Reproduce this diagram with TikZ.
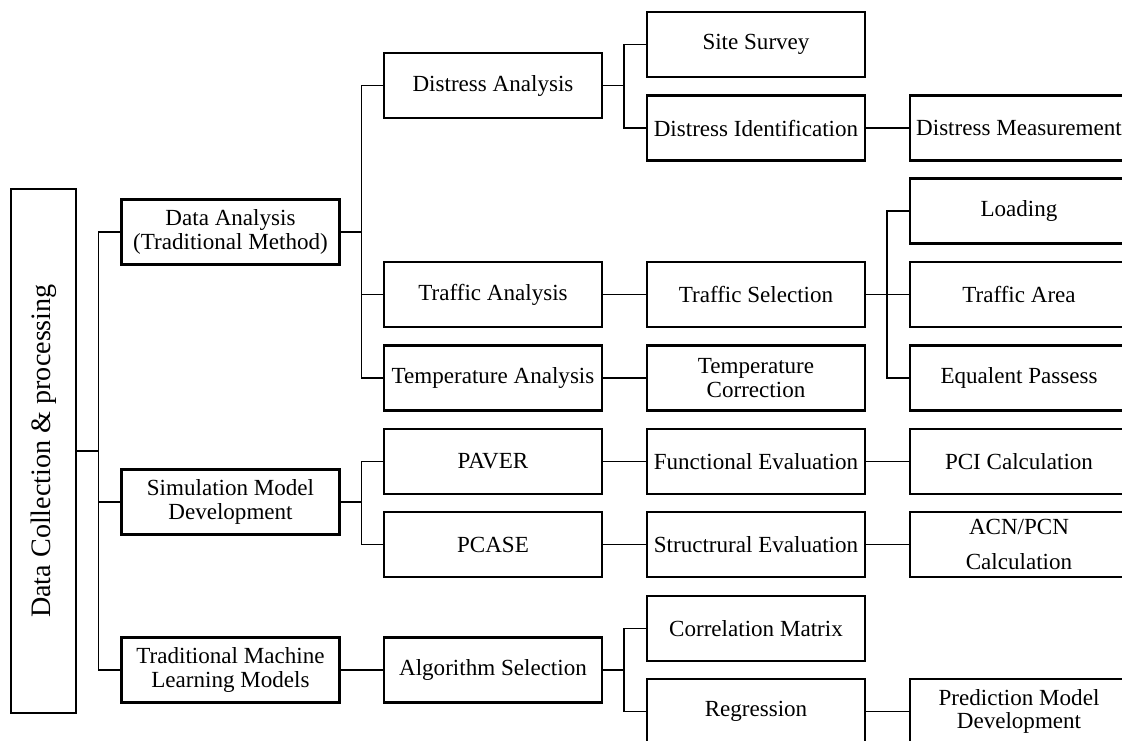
\documentclass[tikz,border=0pt]{standalone}
\usepackage{fontspec}
\setmainfont{Liberation Serif}
\begin{document}
\begin{tikzpicture}[x=0.75pt,y=-0.75pt,
  box/.style={draw, line width=1.8pt, minimum width=163.5pt, minimum height=48.5pt,
    inner sep=0pt, align=center, font=\fontsize{17.3}{17.8}\selectfont},
  conn/.style={line width=1.1pt}]
\useasboundingbox (0,0) rectangle (1122,740);
\clip (0,0) rectangle (1122,740);
% root
\node[box, rotate=90, minimum width=393pt, minimum height=49pt,
  font=\fontsize{21.1}{24}\selectfont] (root) at (43.5,451) {Data Collection \& processing};
% level 1
\node[box] (da)  at (230.5,232) {Data Analysis\\(Traditional Method)};
\node[box] (sim) at (230.5,502) {Simulation Model\\Development};
\node[box] (tml) at (230.5,670) {Traditional Machine\\Learning Models};
% level 2
\node[box] (dist)  at (493,85.5)  {Distress Analysis};
\node[box] (traf)  at (493,294.5) {Traffic Analysis};
\node[box] (temp)  at (493,378)   {Temperature Analysis};
\node[box] (paver) at (493,461.5) {PAVER};
\node[box] (pcase) at (493,544.5) {PCASE};
\node[box] (algo)  at (493,670)   {Algorithm Selection};
% level 3
\node[box] (site)  at (756,44.5)  {Site Survey};
\node[box] (did)   at (756,128)   {Distress Identification};
\node[box] (tsel)  at (756,294.5) {Traffic Selection};
\node[box] (tcor)  at (756,378)   {Temperature\\Correction};
\node[box] (func)  at (756,461.5) {Functional Evaluation};
\node[box] (struc) at (756,544.5) {Structrural Evaluation};
\node[box] (corr)  at (756,628.5) {Correlation Matrix};
\node[box] (reg)   at (756,711.5) {Regression};
% level 4
\node[box] (dmeas) at (1019,128)   {Distress Measurement};
\node[box] (load)  at (1019,211)   {Loading};
\node[box] (tarea) at (1019,294.5) {Traffic Area};
\node[box] (eqp)   at (1019,378)   {Equalent Passess};
\node[box] (pci)   at (1019,461.5) {PCI Calculation};
\node[box] (acn)   at (1019,544.5) {ACN/PCN\\[8pt]Calculation};
\node[box] (pred)  at (1019,711.5) {Prediction Model\\Development};
% connectors
\draw[conn] (root.south) -- ++(21,0) |- (da.west);
\draw[conn] (root.south) -- ++(21,0) |- (sim.west);
\draw[conn] (root.south) -- ++(21,0) |- (tml.west);
\draw[conn] (da.east) -- ++(21,0) |- (dist.west);
\draw[conn] (da.east) -- ++(21,0) |- (traf.west);
\draw[conn] (da.east) -- ++(21,0) |- (temp.west);
\draw[conn] (sim.east) -- ++(21,0) |- (paver.west);
\draw[conn] (sim.east) -- ++(21,0) |- (pcase.west);
\draw[conn] (tml.east) -- (algo.west);
\draw[conn] (dist.east) -- ++(21,0) |- (site.west);
\draw[conn] (dist.east) -- ++(21,0) |- (did.west);
\draw[conn] (traf.east) -- (tsel.west);
\draw[conn] (temp.east) -- (tcor.west);
\draw[conn] (paver.east) -- (func.west);
\draw[conn] (pcase.east) -- (struc.west);
\draw[conn] (algo.east) -- ++(21,0) |- (corr.west);
\draw[conn] (algo.east) -- ++(21,0) |- (reg.west);
\draw[conn] (did.east) -- (dmeas.west);
\draw[conn] (tsel.east) -- ++(21,0) |- (load.west);
\draw[conn] (tsel.east) -- ++(21,0) |- (tarea.west);
\draw[conn] (tsel.east) -- ++(21,0) |- (eqp.west);
\draw[conn] (func.east) -- (pci.west);
\draw[conn] (struc.east) -- (acn.west);
\draw[conn] (reg.east) -- (pred.west);
\end{tikzpicture}
\end{document}
